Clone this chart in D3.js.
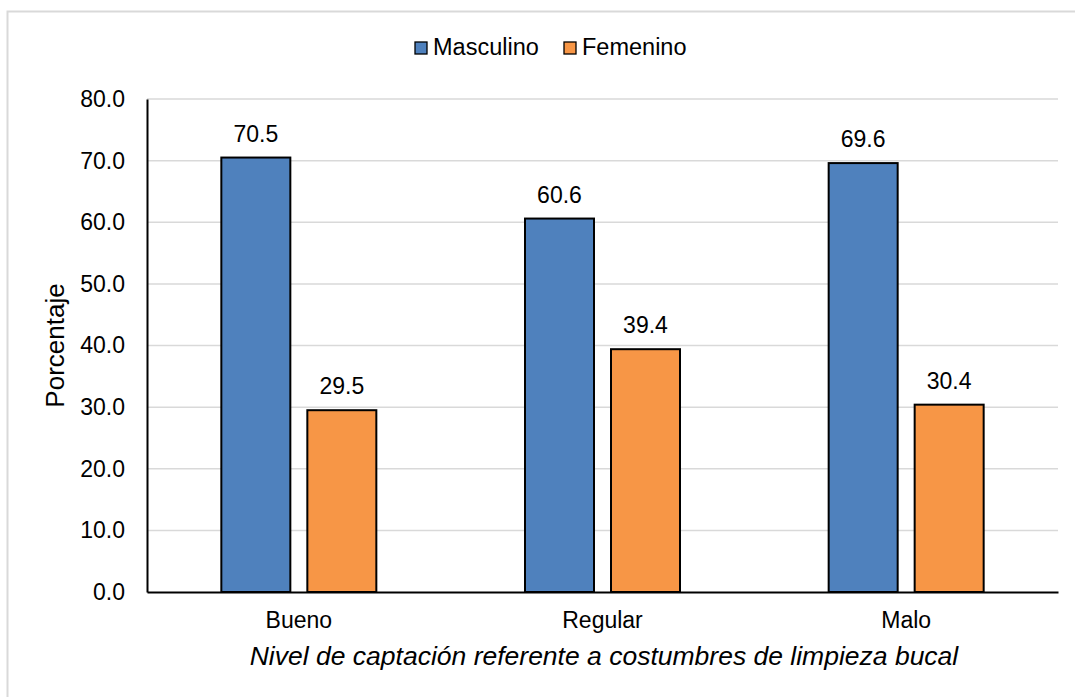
<!DOCTYPE html>
<html>
<head>
<meta charset="utf-8">
<script src="https://cdn.jsdelivr.net/npm/d3@7"></script>
<style>
  html, body { margin: 0; padding: 0; background: #fff; }
  svg { display: block; font-family: "Liberation Sans", Arial, sans-serif; }
</style>
</head>
<body>
<svg id="chart" width="1075" height="697"></svg>
<script>
// Data
const categories = ["Bueno", "Regular", "Malo"];
const seriesNames = ["Masculino", "Femenino"];
const masculino = [70.5, 60.6, 69.6];
const femenino = [29.5, 39.4, 30.4];
const yTicks = [0, 10, 20, 30, 40, 50, 60, 70, 80];
const colors = ["#4f81bd", "#f79646"];

const svg = d3.select("#chart");
const W = 1075, H = 697;
const FONT = "Liberation Sans, Arial, sans-serif";

// Outer frame
svg.append("rect")
  .attr("x", 7.5).attr("y", 11.5)
  .attr("width", W + 10).attr("height", H + 10)
  .attr("fill", "#fff").attr("stroke", "#d9d9d9").attr("stroke-width", 2);

const margin = { left: 147, right: 1058, top: 99, bottom: 592 };

const x = d3.scaleBand().domain(categories).range([margin.left, margin.right]);
const y = d3.scaleLinear().domain([0, 80]).range([margin.bottom, margin.top]);

// Gridlines
svg.append("g").selectAll("line").data(yTicks.filter(d => d > 0)).join("line")
  .attr("x1", margin.left).attr("x2", margin.right)
  .attr("y1", d => y(d)).attr("y2", d => y(d))
  .attr("stroke", "#d9d9d9").attr("stroke-width", 1.5);

// Bars with value labels
const barW = 69, gap = 17;
const table = categories.map((c, i) => ({ cat: c, vals: [masculino[i], femenino[i]] }));
const groups = svg.append("g").selectAll("g").data(table).join("g");
groups.each(function (d) {
  const g = d3.select(this);
  const cx = x(d.cat) + x.bandwidth() / 2;
  d.vals.forEach((v, j) => {
    const bx = j === 0 ? cx - gap / 2 - barW : cx + gap / 2;
    g.append("rect")
      .attr("x", bx).attr("y", y(v))
      .attr("width", barW).attr("height", y(0) - y(v))
      .attr("fill", colors[j]).attr("stroke", "#000").attr("stroke-width", 2);
    g.append("text")
      .attr("x", bx + barW / 2).attr("y", y(v) - 16)
      .attr("text-anchor", "middle")
      .attr("font-size", 23).attr("fill", "#000")
      .text(v.toFixed(1));
  });
});

// Y axis
const yAxis = d3.axisLeft(y).tickValues(yTicks).tickSize(0).tickPadding(22)
  .tickFormat(d => d.toFixed(1));
const yg = svg.append("g").attr("transform", `translate(${margin.left},0)`).call(yAxis);
yg.select(".domain").attr("stroke", "#000").attr("stroke-width", 2);
yg.selectAll("text").attr("font-size", 23).attr("fill", "#000").attr("font-family", FONT);

// X axis
const xAxis = d3.axisBottom(x).tickSize(0).tickPadding(20);
const xg = svg.append("g").attr("transform", `translate(0,${margin.bottom})`).call(xAxis);
xg.select(".domain").attr("stroke", "#000").attr("stroke-width", 2);
xg.selectAll("text").attr("font-size", 23).attr("fill", "#000").attr("font-family", FONT);

// Axis titles
svg.append("text")
  .attr("transform", `translate(64,${(margin.top + margin.bottom) / 2}) rotate(-90)`)
  .attr("text-anchor", "middle").attr("font-size", 26).attr("fill", "#000")
  .text("Porcentaje");

svg.append("text")
  .attr("x", 604).attr("y", 665)
  .attr("text-anchor", "middle").attr("font-size", 26.5).attr("font-style", "italic")
  .attr("fill", "#000")
  .text("Nivel de captación referente a costumbres de limpieza bucal");

// Legend
const legend = svg.append("g");
const legendItems = [{ name: seriesNames[0], x: 415 }, { name: seriesNames[1], x: 564 }];
legendItems.forEach((d, i) => {
  legend.append("rect")
    .attr("x", d.x).attr("y", 42).attr("width", 12).attr("height", 12)
    .attr("fill", colors[i]).attr("stroke", "#000").attr("stroke-width", 1.3);
  legend.append("text")
    .attr("x", d.x + 18).attr("y", 55)
    .attr("font-size", 23.5).attr("fill", "#000")
    .text(d.name);
});
</script>
</body>
</html>
